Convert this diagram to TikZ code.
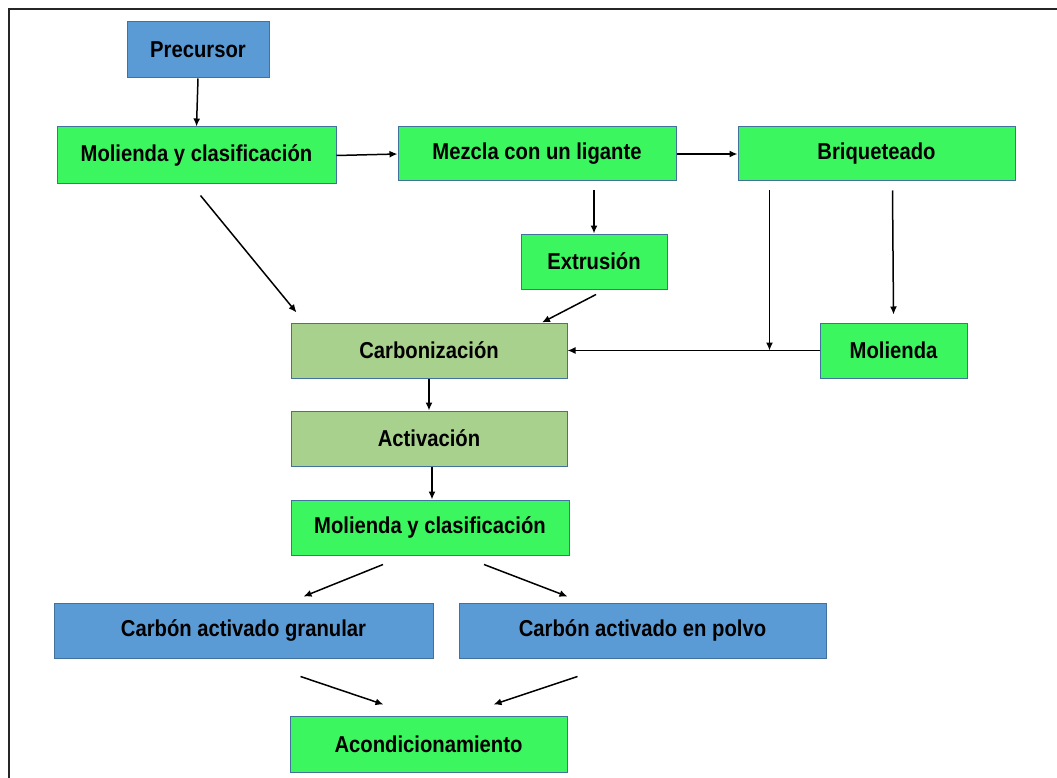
\documentclass[tikz,border=0pt]{standalone}
\usepackage{fontspec}
\setmainfont{Liberation Sans}[FakeStretch=0.88]
\usetikzlibrary{arrows.meta,calc}
\definecolor{gfill}{RGB}{60,246,96}
\definecolor{bfill}{RGB}{91,155,213}
\definecolor{lgfill}{RGB}{169,209,142}
\definecolor{bord}{RGB}{65,113,156}
\tikzset{
  box/.style={draw=bord, line width=1pt, inner sep=0pt, font=\fontsize{23}{27}\selectfont\bfseries, text=black},
  gbox/.style={box, fill=gfill},
  bbox/.style={box, fill=bfill},
  lbox/.style={box, fill=lgfill},
  arr/.style={line width=1.5pt, -{Latex[length=8pt,width=7pt]}},
  plain/.style={line width=1.5pt}
}
\begin{document}
\begin{tikzpicture}[x=1pt,y=-1pt]
\useasboundingbox (0,0) rectangle (1057,778);
\draw[line width=2pt, black!85] (9,778) -- (9,9) -- (1057,9);

\node[bbox, minimum width=142pt, minimum height=56pt] (prec) at (198,50) {Precursor};
\node[gbox, minimum width=279pt, minimum height=57pt] (mc1) at (196.5,155.5) {Molienda y clasificación};
\node[gbox, minimum width=278pt, minimum height=54pt] (mez) at (537,154) {Mezcla con un ligante};
\node[gbox, minimum width=277pt, minimum height=54pt] (briq) at (876.5,154) {Briqueteado};
\node[gbox, minimum width=146pt, minimum height=55pt] (ext) at (594,261.5) {Extrusión};
\node[lbox, minimum width=276pt, minimum height=55pt] (carb) at (429,350.5) {Carbonización};
\node[gbox, minimum width=147pt, minimum height=55pt] (mol) at (893.5,350.5) {Molienda};
\node[lbox, minimum width=276pt, minimum height=55pt] (act) at (429,438.5) {Activación};
\node[gbox, minimum width=278pt, minimum height=55pt] (mc2) at (430,527.5) {Molienda y clasificación};
\node[bbox, minimum width=379pt, minimum height=55pt] (gran) at (243.5,630.5) {Carbón activado granular};
\node[bbox, minimum width=367pt, minimum height=55pt] (polvo) at (642.5,630.5) {Carbón activado en polvo};
\node[gbox, minimum width=277pt, minimum height=56pt] (acon) at (428.5,744) {Acondicionamiento};

\coordinate (j) at ($(briq.south west |- mol.west)+(32,0)$);

\draw[arr] (prec.south) -- (mc1.north);
\draw[arr] (mc1.east) -- (mez.west);
\draw[arr] (mez.east) -- (briq.west);
\draw[arr] ($(ext.north |- mez.south)+(0,9)$) -- (ext.north);
\draw[arr] ($(ext.south)+(2,5)$) -- ($(carb.north)+(113,0)$);
\draw[arr] ($(mc1.south)+(4,11)$) -- ($(carb.north west)+(6,-10)$);
\draw[arr] ($(briq.south west)+(32,9)$) -- (j);
\draw[arr] ($(briq.south)+(16,9)$) -- ($(mol.north)+(0,-8)$);
\draw[arr] (mol.west) -- (carb.east);
\draw[arr] (carb.south) -- (act.north);
\draw[arr] ($(act.south)+(3,0)$) -- ($(mc2.north)+(2,0)$);
\draw[arr] ($(mc2.south)+(-47,9)$) -- ($(gran.north)+(60,-6)$);
\draw[arr] ($(mc2.south)+(54,9)$) -- ($(polvo.north)+(-75,-6)$);
\draw[arr] ($(gran.south)+(57,18)$) -- ($(acon.north)+(-45,-11)$);
\draw[arr] ($(polvo.south)+(-65,18)$) -- ($(acon.north)+(65,-11)$);
\end{tikzpicture}
\end{document}
